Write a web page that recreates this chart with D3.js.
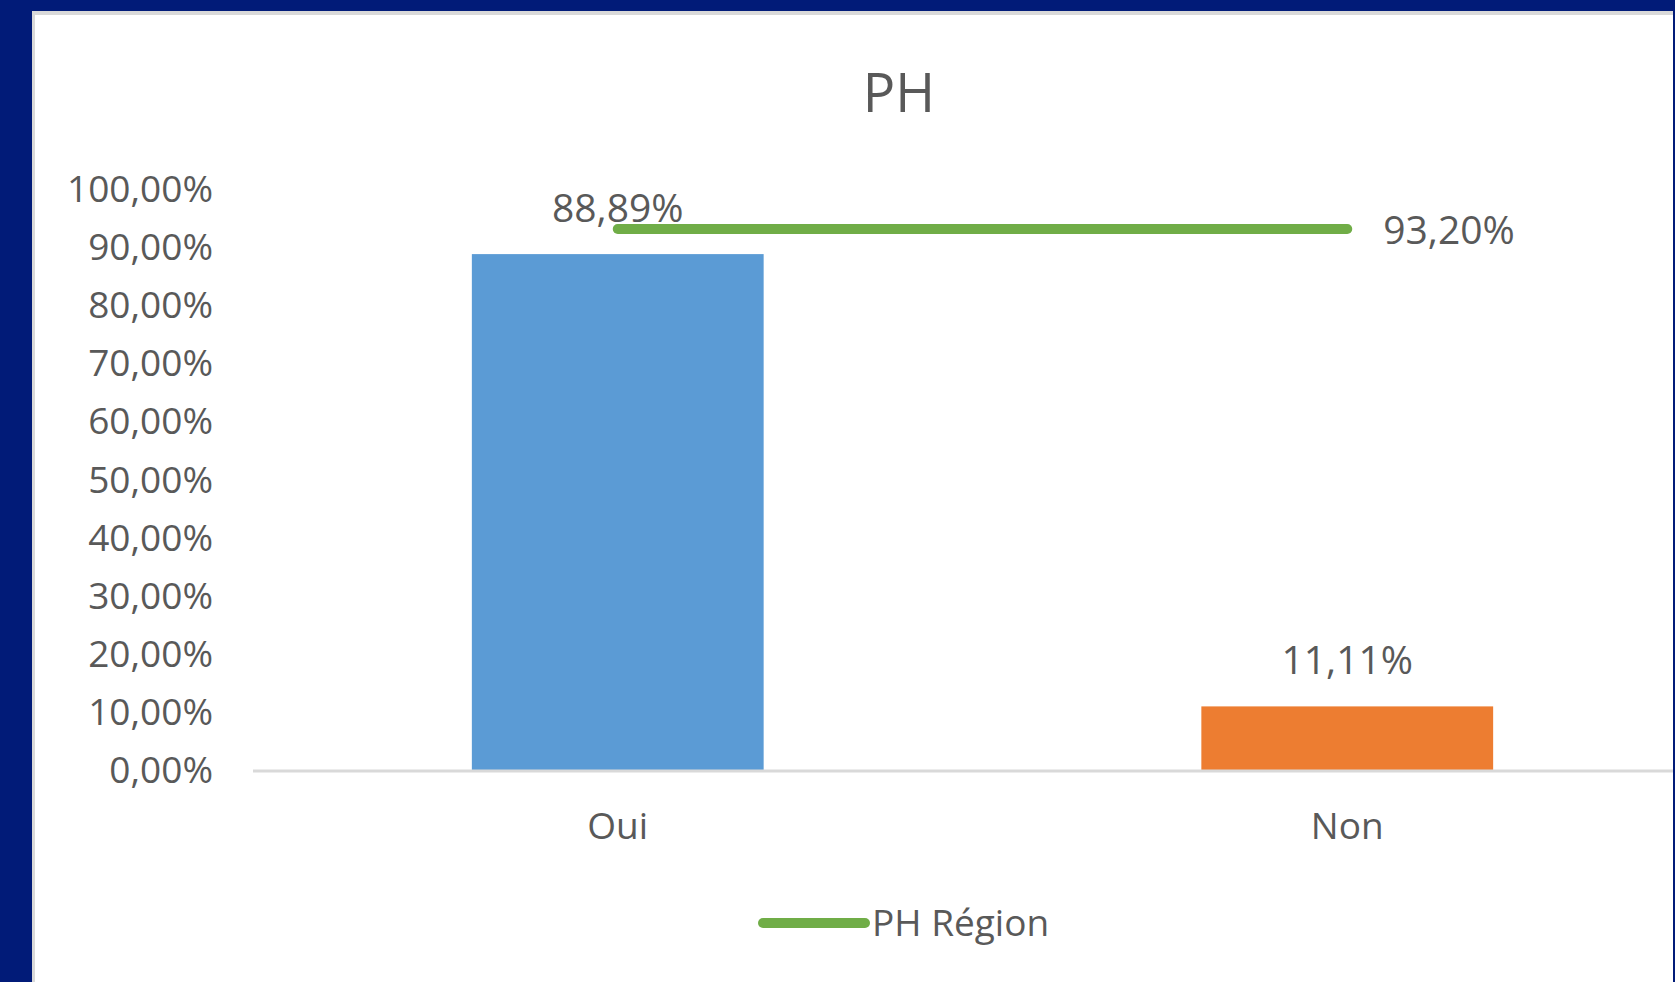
<!DOCTYPE html>
<html>
<head>
<meta charset="utf-8">
<script src="https://cdn.jsdelivr.net/npm/d3@7"></script>
<style>
    body { margin: 0; background: #011b78; }
    svg { display: block; }
</style>
</head>
<body>
<script>
// data
const categories = ['Oui', 'Non'];
const values = [0.8889, 0.1111];
const barColors = ['#5b9bd5', '#ed7d31'];
const regionValue = 0.932;
const regionName = 'PH Région';
const yTicks = [0, 0.1, 0.2, 0.3, 0.4, 0.5, 0.6, 0.7, 0.8, 0.9, 1];
const title = 'PH';

const W = 1675, H = 982;
const textColor = '#595959';
const font = '"Open Sans", sans-serif';
const fmt = v => d3.format('.2%')(v).replace('.', ',');

const svg = d3.select('body').append('svg')
    .attr('width', W)
    .attr('height', H)
    .style('font-family', font);

// frame
svg.append('rect').attr('width', W).attr('height', H).attr('fill', '#011b78');
svg.append('rect')
    .attr('x', 32).attr('y', 11)
    .attr('width', 1641).attr('height', H - 11)
    .attr('fill', '#d9d9d9');
svg.append('rect')
    .attr('x', 35).attr('y', 15)
    .attr('width', 1638).attr('height', H - 15)
    .attr('fill', '#fff');

svg.append('clipPath').attr('id', 'panel')
    .append('rect').attr('x', 35).attr('y', 15).attr('width', 1638).attr('height', H - 15);

const x = d3.scaleBand()
    .domain(categories)
    .range([253, 1712]);

const y = d3.scaleLinear()
    .domain([0, 1])
    .range([771, 189.5]);

const barW = x.bandwidth() * 0.4;
const cx = d => x(d) + x.bandwidth() / 2;

const plot = svg.append('g').attr('clip-path', 'url(#panel)');

// title
svg.append('text')
    .attr('x', 899)
    .attr('y', 112)
    .attr('text-anchor', 'middle')
    .attr('fill', textColor)
    .style('font-size', '54px')
    .text(title);

// y axis labels
const yAxis = svg.append('g')
    .attr('transform', 'translate(213,0)')
    .call(d3.axisLeft(y).tickValues(yTicks).tickFormat(fmt).tickSize(0).tickPadding(0));
yAxis.select('.domain').remove();
yAxis.selectAll('text')
    .attr('fill', textColor)
    .style('font-family', font)
    .style('font-size', '37px');

// bars
plot.selectAll('.bar')
    .data(categories)
    .enter()
    .append('rect')
    .attr('class', 'bar')
    .attr('x', d => cx(d) - barW / 2)
    .attr('y', (d, i) => y(values[i]))
    .attr('width', barW)
    .attr('height', (d, i) => y(0) - y(values[i]))
    .attr('fill', (d, i) => barColors[i]);

// baseline
plot.append('line')
    .attr('x1', 253).attr('x2', 1712)
    .attr('y1', y(0)).attr('y2', y(0))
    .attr('stroke', '#d9d9d9')
    .attr('stroke-width', 3);

// region line
const line = d3.line()
    .x(d => cx(d))
    .y(() => y(regionValue));

plot.append('path')
    .datum(categories)
    .attr('d', line)
    .attr('fill', 'none')
    .attr('stroke', '#70ad47')
    .attr('stroke-width', 10)
    .attr('stroke-linecap', 'round');

// bar labels
svg.selectAll('.val')
    .data(categories)
    .enter()
    .append('text')
    .attr('class', 'val')
    .attr('x', d => cx(d))
    .attr('y', (d, i) => y(values[i]) - 32)
    .attr('text-anchor', 'middle')
    .attr('fill', textColor)
    .style('font-size', '39px')
    .text((d, i) => fmt(values[i]));

// region label
svg.append('text')
    .attr('x', cx(categories[1]) + 36)
    .attr('y', y(regionValue) + 15)
    .attr('fill', textColor)
    .style('font-size', '39px')
    .text(fmt(regionValue));

// category labels
svg.selectAll('.cat')
    .data(categories)
    .enter()
    .append('text')
    .attr('class', 'cat')
    .attr('x', d => cx(d))
    .attr('y', y(0) + 68)
    .attr('text-anchor', 'middle')
    .attr('fill', textColor)
    .style('font-size', '37px')
    .text(d => d);

// legend
const legend = svg.append('g').attr('transform', 'translate(763,923)');
legend.append('line')
    .attr('x1', 0).attr('x2', 102)
    .attr('stroke', '#70ad47')
    .attr('stroke-width', 10)
    .attr('stroke-linecap', 'round');
legend.append('text')
    .attr('x', 109)
    .attr('y', 13)
    .attr('fill', textColor)
    .style('font-size', '37px')
    .text(regionName);
</script>
</body>
</html>
